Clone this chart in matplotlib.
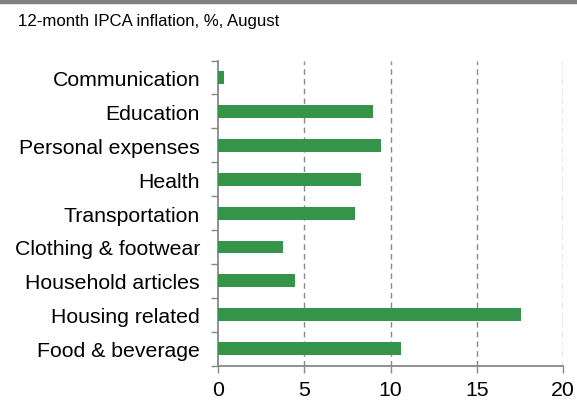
import matplotlib.pyplot as plt
import numpy as np
from matplotlib.patches import Rectangle

plt.rcParams['font.family'] = ['Liberation Sans', 'DejaVu Sans']

# dati: inflazione IPCA 12 mesi per gruppo, agosto
categories = ['Food & beverage', 'Housing related', 'Household articles',
              'Clothing & footwear', 'Transportation', 'Health',
              'Personal expenses', 'Education', 'Communication']
values = [10.6, 17.55, 4.45, 3.75, 7.95, 8.3, 9.45, 9.0, 0.35]
xticks = [0, 5, 10, 15, 20]

fig = plt.figure(figsize=(5.77, 4.02), dpi=100)
ax = fig.add_axes([0.378, 0.088, 0.598, 0.759])

y = np.arange(len(categories))
ax.barh(y, values, height=0.38, color='#36934a', zorder=3)

ax.set_xlim(0, 20)
ax.set_ylim(-0.5, len(categories) - 0.5)
ax.set_xticks(xticks)
ax.set_xticklabels([str(t) for t in xticks], fontsize=15.3)
ax.set_yticks(y)
ax.set_yticklabels(categories, fontsize=15.3)
ax.set_yticks(np.arange(-0.5, len(categories)), minor=True)
ax.tick_params(axis='y', which='major', length=0, pad=13)
ax.tick_params(axis='y', which='minor', length=5, color='#888888', width=1)
ax.tick_params(axis='x', length=5, color='#888888', width=1, pad=5)

# griglia tratteggiata verticale
for t in xticks[1:]:
    ax.axvline(t, color='#888888', ls=(0, (4, 3)), lw=1, zorder=1)

for s in ['top', 'right']:
    ax.spines[s].set_visible(False)
for s in ['left', 'bottom']:
    ax.spines[s].set_color('#888888')
    ax.spines[s].set_linewidth(1.3)

fig.text(0.031, 0.947, '12-month IPCA inflation, %, August', fontsize=12.1,
         va='center', ha='left')
# banda grigia in alto
fig.patches.append(Rectangle((0, 0.99), 1, 0.01, transform=fig.transFigure,
                             color='#808080'))

fig.savefig('out.png', dpi=100)
